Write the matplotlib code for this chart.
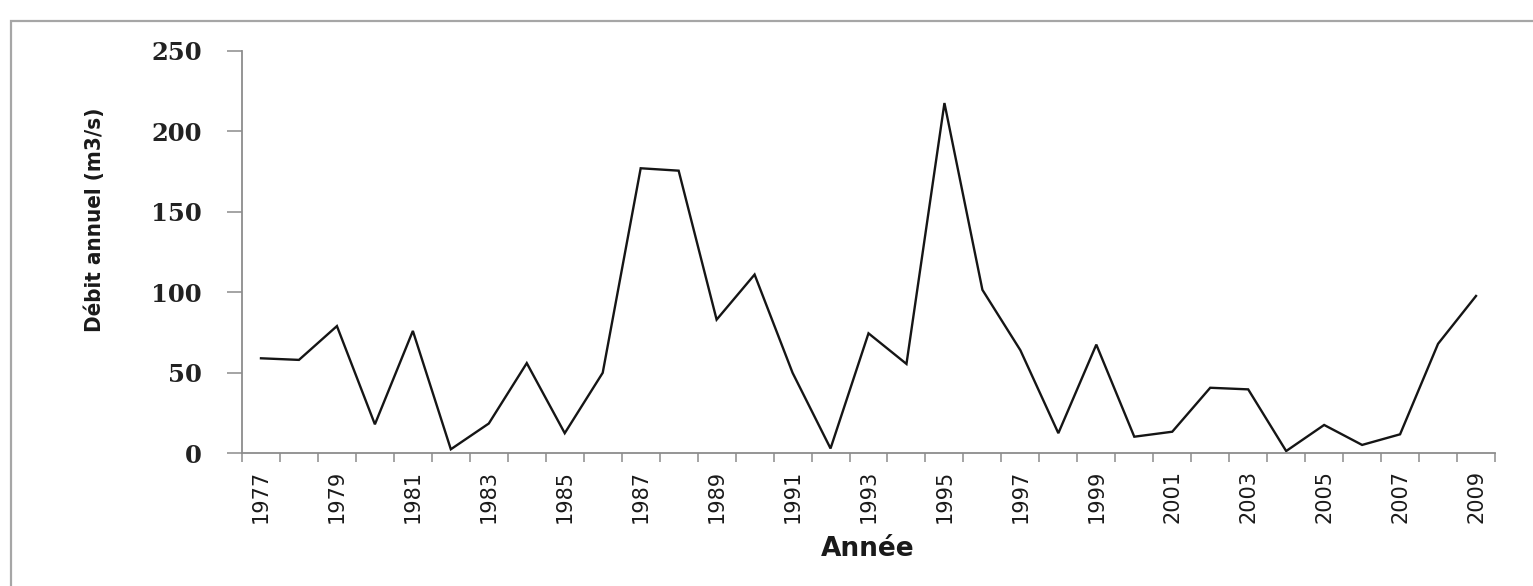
import matplotlib
matplotlib.use("Agg")
import matplotlib.pyplot as plt
import numpy as np
from matplotlib.patches import Rectangle
from matplotlib.ticker import FixedLocator

years = list(range(1977, 2010))
flow = [59, 58, 79, 18, 76, 2.5, 18.5, 56, 12.5, 50, 177, 175.5,
        83, 111, 50, 3, 74.5, 55.5, 217.5, 101.5, 64, 12.5, 67.5,
        10.3, 13.4, 40.7, 39.7, 1.4, 17.6, 5.2, 11.8, 68, 97.7]
yticks = [0, 50, 100, 150, 200, 250]
label_years = years[::2]

W, H = 1533, 586
fig = plt.figure(figsize=(W / 100, H / 100), dpi=100)
fig.patch.set_facecolor("white")

# outer chart frame
fig.patches.append(Rectangle((11 / W, -0.02), 1.1, 1 - 21 / H + 0.02,
                             transform=fig.transFigure, fill=False,
                             edgecolor="#a6a6a6", linewidth=1.6))

left, right = 242 / W, 1495 / W
bottom, top = 1 - 453.3 / H, 1 - 50.7 / H
ax = fig.add_axes([left, bottom, right - left, top - bottom])

x = np.arange(len(years))
ax.plot(x, flow, color="#151515", linewidth=1.7, solid_joinstyle="miter")

ax.set_xlim(-0.5, len(years) - 0.5)
ax.set_ylim(0, 250)

for s in ("top", "right"):
    ax.spines[s].set_visible(False)
for s in ("left", "bottom"):
    ax.spines[s].set_color("#8c8c8c")
    ax.spines[s].set_linewidth(1.3)

# y axis
ax.set_yticks(yticks)
ax.set_yticklabels([str(v) for v in yticks], fontfamily="DejaVu Serif",
                   fontweight="bold", fontsize=17.5, color="#222222")
ax.tick_params(axis="y", direction="out", length=11, width=1.1,
               color="#8c8c8c", pad=18)

# x axis: labels at category centers, ticks at category boundaries
ax.xaxis.set_major_locator(FixedLocator([years.index(y) for y in label_years]))
ax.set_xticklabels([str(y) for y in label_years], rotation=90,
                   fontfamily="DejaVu Sans", fontsize=15, color="#1a1a1a")
ax.tick_params(axis="x", which="major", length=0, pad=12)
ax.xaxis.set_minor_locator(FixedLocator(np.arange(-0.5, len(years), 1.0)))
ax.tick_params(axis="x", which="minor", direction="out", length=6.5,
               width=1.1, color="#8c8c8c")

fig.text(95 / W, 1 - 220 / H, "Débit annuel (m3/s)", rotation=90,
         ha="center", va="center", fontfamily="DejaVu Sans",
         fontstretch="condensed", fontweight="bold", fontsize=16,
         color="#1a1a1a")
fig.text(868 / W, 1 - 549 / H, "Année", ha="center", va="center",
         fontfamily="DejaVu Sans", fontweight="bold", fontsize=19,
         color="#1a1a1a")

fig.savefig("out.png", dpi=100, facecolor="white")
